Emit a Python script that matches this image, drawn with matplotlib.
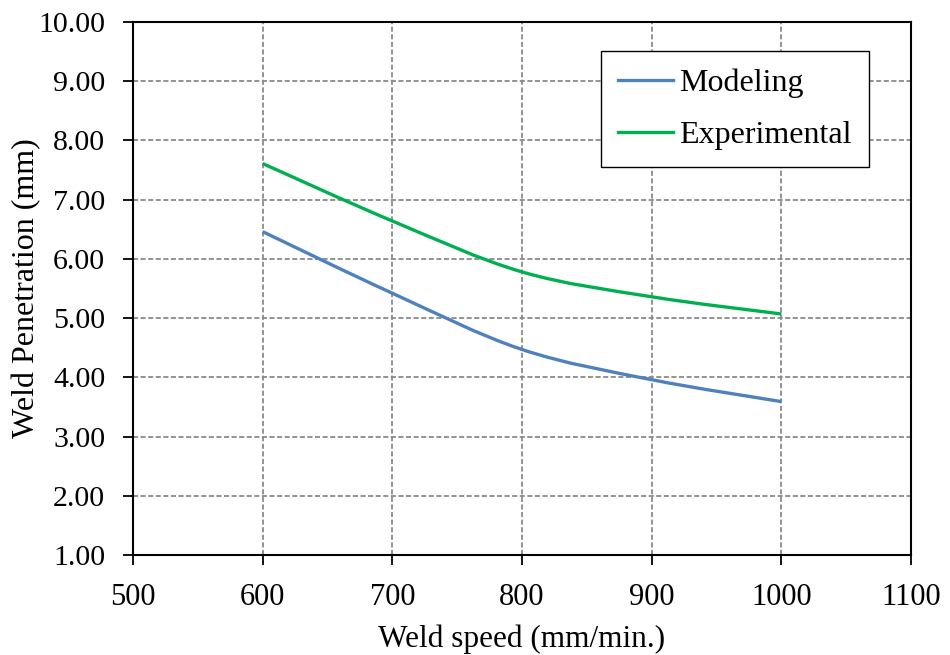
import numpy as np
import matplotlib.pyplot as plt
from matplotlib.path import Path
from matplotlib.patches import PathPatch
from matplotlib.lines import Line2D

# данные
weld_speed = [600, 700, 800, 900, 1000]
modeling = [6.46, 5.42, 4.47, 3.96, 3.59]
experimental = [7.61, 6.64, 5.78, 5.36, 5.07]

blue = '#4F81BD'
green = '#00B050'

plt.rcParams['font.family'] = ['Liberation Serif', 'DejaVu Serif']


def smooth_path(x, y):
    # сглаживание как в Excel: кубические кривые Безье через точки
    p = np.column_stack([x, y]).astype(float)
    ext = np.vstack([p[0], p, p[-1]])
    verts = [p[0]]
    codes = [Path.MOVETO]
    for i in range(len(p) - 1):
        p0, p1, p2, p3 = ext[i], ext[i + 1], ext[i + 2], ext[i + 3]
        c1 = p1 + (p2 - p0) / 6
        c2 = p2 - (p3 - p1) / 6
        verts += [c1, c2, p2]
        codes += [Path.CURVE4] * 3
    return Path(verts, codes)


fig = plt.figure(figsize=(9.5, 6.55), dpi=100)
ax = fig.add_axes([0.14, 0.1527, 0.819, 0.8137])

for yv, col in [(modeling, blue), (experimental, green)]:
    ax.add_patch(PathPatch(smooth_path(weld_speed, yv), fill=False,
                           edgecolor=col, lw=2.4, capstyle='butt', zorder=3))

ax.set_xlim(500, 1100)
ax.set_ylim(1, 10)
ax.set_xticks(np.arange(500, 1101, 100))
ax.set_yticks(np.arange(1, 10.01, 1))
ax.set_yticklabels([f'{v:.2f}' for v in np.arange(1, 10.01, 1)])
ax.grid(True, color='#8a8a8a', ls=(0, (2.8, 1.4)), lw=1.3)
ax.set_axisbelow(True)
for s in ax.spines.values():
    s.set_linewidth(1.5)
    s.set_color('black')
ax.tick_params(width=1.3, length=7, direction='out')
ax.tick_params(axis='y', labelsize=21.5, pad=13)
ax.tick_params(axis='x', labelsize=22, pad=13)

ax.set_xlabel('Weld speed (mm/min.)', fontsize=22.5)
ax.xaxis.set_label_coords(0.5, -0.13)
ax.set_ylabel('Weld Penetration (mm)', fontsize=23)
ax.yaxis.set_label_coords(-0.118, 0.5)

handles = [Line2D([], [], color=blue, lw=2.4), Line2D([], [], color=green, lw=2.4)]
leg = ax.legend(handles, ['Modeling', 'Experimental'], loc='upper right',
                bbox_to_anchor=(0.946, 0.9456), borderaxespad=0, fontsize=23,
                frameon=True, fancybox=False, edgecolor='black', framealpha=1,
                handlelength=1.7, handletextpad=0.2, labelspacing=0.7,
                borderpad=0.55)
leg.get_frame().set_linewidth(1)

fig.savefig('out.png', dpi=100)
